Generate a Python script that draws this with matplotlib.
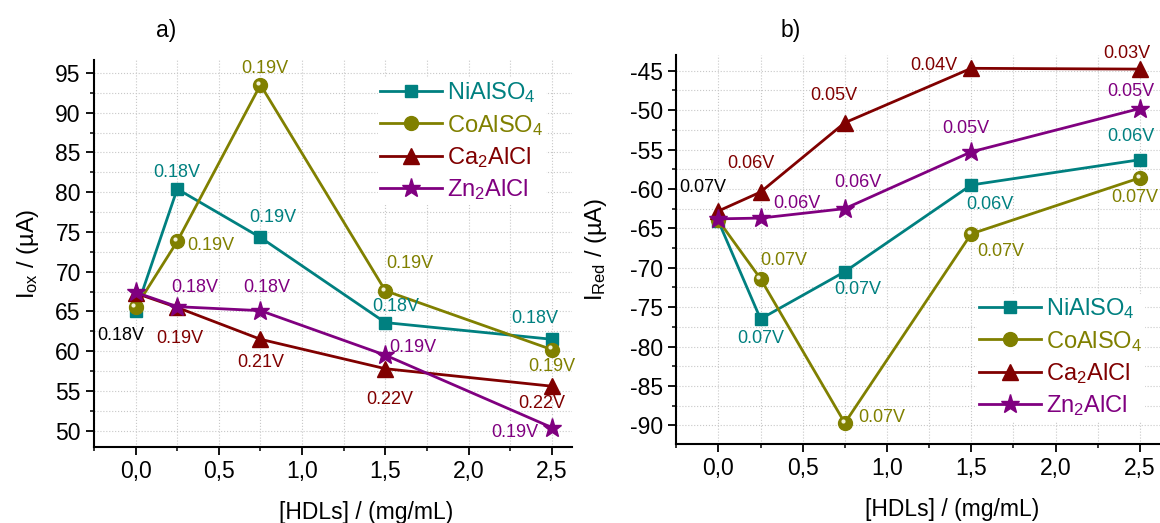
import matplotlib
matplotlib.use('Agg')
import matplotlib.pyplot as plt
import matplotlib.transforms as mtransforms
from matplotlib.ticker import MultipleLocator

plt.rcParams['font.family'] = ['Liberation Sans', 'DejaVu Sans']
plt.rcParams['mathtext.fontset'] = 'custom'
plt.rcParams['mathtext.rm'] = 'Liberation Sans'
plt.rcParams['mathtext.it'] = 'Liberation Sans'
plt.rcParams['axes.unicode_minus'] = False

# data
hdl = [0.0, 0.25, 0.75, 1.5, 2.5]
names = ['NiAlSO$_4$', 'CoAlSO$_4$', 'Ca$_2$AlCl', 'Zn$_2$AlCl']
colors = ['#008080', '#808000', '#800000', '#800080']
markers = ['s', 'o', '^', '*']
msizes = [9, 10, 11, 14]

ox_ni = [65.0, 80.4, 74.3, 63.6, 61.5]
ox_co = [65.5, 73.8, 93.5, 67.6, 60.2]
ox_ca = [67.3, 65.5, 61.5, 57.8, 55.6]
ox_zn = [67.4, 65.6, 65.1, 59.5, 50.4]
ox_pot = [
    ['0.18V', '0.18V', '0.19V', '0.18V', '0.18V'],
    [None, '0.19V', '0.19V', '0.19V', '0.19V'],
    [None, '0.19V', '0.21V', '0.22V', '0.22V'],
    [None, '0.18V', '0.18V', '0.19V', '0.19V'],
]

red_ni = [-64.1, -76.5, -70.5, -59.5, -56.3]
red_co = [-64.0, -71.4, -89.7, -65.7, -58.6]
red_ca = [-62.8, -60.4, -51.6, -44.7, -44.8]
red_zn = [-63.8, -63.7, -62.5, -55.3, -49.8]
red_pot = [
    [None, '0.07V', '0.07V', '0.06V', '0.06V'],
    [None, '0.07V', '0.07V', '0.07V', '0.07V'],
    ['0.07V', '0.06V', '0.05V', '0.04V', '0.03V'],
    [None, '0.06V', '0.06V', '0.05V', '0.05V'],
]

xtick_vals = [0.0, 0.5, 1.0, 1.5, 2.0, 2.5]
xtick_labels = ['0,0', '0,5', '1,0', '1,5', '2,0', '2,5']

# label offsets in pixels (dx, dy) relative to each point
ox_off = [
    [(-15, -24), (0, 16), (12, 20), (10, 16), (-17, 21)],
    [None, (34, -4), (4, 16), (24, 27), (0, -17)],
    [None, (3, -31), (0, -23), (4, -31), (-10, -17)],
    [None, (18, 19), (6, 23), (27, 8), (-37, -5)],
]
red_off = [
    [None, (0, -20), (13, -18), (19, -20), (-9, 23)],
    [None, (23, 18), (37, 6), (30, -18), (-5, -20)],
    [(-16, 23), (-10, 29), (-11, 27), (-37, 3), (-13, 16)],
    [None, (36, 15), (13, 26), (-5, 23), (-9, 17)],
]

fig = plt.figure(figsize=(11.6, 5.23), dpi=100)
ax1 = fig.add_axes([0.081, 0.146, 0.412, 0.739])
ax2 = fig.add_axes([0.583, 0.152, 0.417, 0.743])


def draw_panel(ax, series, pots, offs, ylim, yticks, ylabel, leg_anchor):
    ax.set_axisbelow(True)
    for i, ys in enumerate(series):
        ax.plot(hdl, ys, color=colors[i], marker=markers[i], ms=msizes[i],
                lw=2, mec=colors[i], label=names[i], zorder=3 + i * 0.1)
        if markers[i] == 'o':
            shift = mtransforms.ScaledTranslation(-1.6 / 72, 1.6 / 72,
                                                  fig.dpi_scale_trans)
            ax.plot(hdl, ys, 'o', ms=3, color='#f2f2d8', mec='none',
                    transform=ax.transData + shift, zorder=3 + i * 0.1 + 0.05)
        for j, txt in enumerate(pots[i]):
            if txt is None:
                continue
            c = 'black' if j == 0 else colors[i]
            ax.annotate(txt, (hdl[j], ys[j]), xytext=offs[i][j],
                        textcoords='offset pixels', ha='center', va='center',
                        fontsize=13, color=c, zorder=6)
    ax.set_xlim(-0.25, 2.62)
    ax.set_ylim(*ylim)
    ax.set_xticks(xtick_vals)
    ax.set_xticklabels(xtick_labels)
    ax.set_yticks(yticks)
    ax.xaxis.set_minor_locator(MultipleLocator(0.25))
    ax.yaxis.set_minor_locator(MultipleLocator(2.5))
    ax.grid(True, which='both', ls=':', lw=0.8, color='#c8c8c8')
    for s in ['top', 'right']:
        ax.spines[s].set_visible(False)
    for s in ['left', 'bottom']:
        ax.spines[s].set_linewidth(1.5)
    ax.tick_params(which='major', direction='out', length=6, width=1.3,
                   labelsize=16.5)
    ax.tick_params(which='minor', direction='out', length=3, width=1.1)
    ax.set_xlabel('[HDLs] / (mg/mL)', fontsize=16.5)
    ax.xaxis.set_label_coords(0.57, -0.14)
    ax.set_ylabel(ylabel, fontsize=17)
    leg = ax.legend(loc='upper left', bbox_to_anchor=leg_anchor,
                    bbox_transform=fig.transFigure, fontsize=17,
                    handlelength=2.6, handletextpad=0.25, labelspacing=0.32,
                    borderpad=0.1, frameon=True, framealpha=1,
                    edgecolor='none', facecolor='white')
    for t, c in zip(leg.get_texts(), colors):
        t.set_color(c)


draw_panel(ax1, [ox_ni, ox_co, ox_ca, ox_zn], ox_pot, ox_off,
           (48.0, 96.6), [50, 55, 60, 65, 70, 75, 80, 85, 90, 95],
           r'I$_\mathrm{ox}$ / (µA)', (366 / 1160, 1 - 66 / 523))
draw_panel(ax2, [red_ni, red_co, red_ca, red_zn], red_pot, red_off,
           (-92.3, -43.0), [-90, -85, -80, -75, -70, -65, -60, -55, -50, -45],
           r'I$_\mathrm{Red}$ / (µA)', (965 / 1160, 1 - 282 / 523))
ax1.yaxis.set_label_coords(-0.11, 0.5)
ax2.yaxis.set_label_coords(-0.14, 0.5)

fig.text(166 / 1160, 1 - 30 / 523, 'a)', fontsize=16.5, ha='center', va='center')
fig.text(791 / 1160, 1 - 30 / 523, 'b)', fontsize=16.5, ha='center', va='center')

fig.savefig('out.png', dpi=100)
